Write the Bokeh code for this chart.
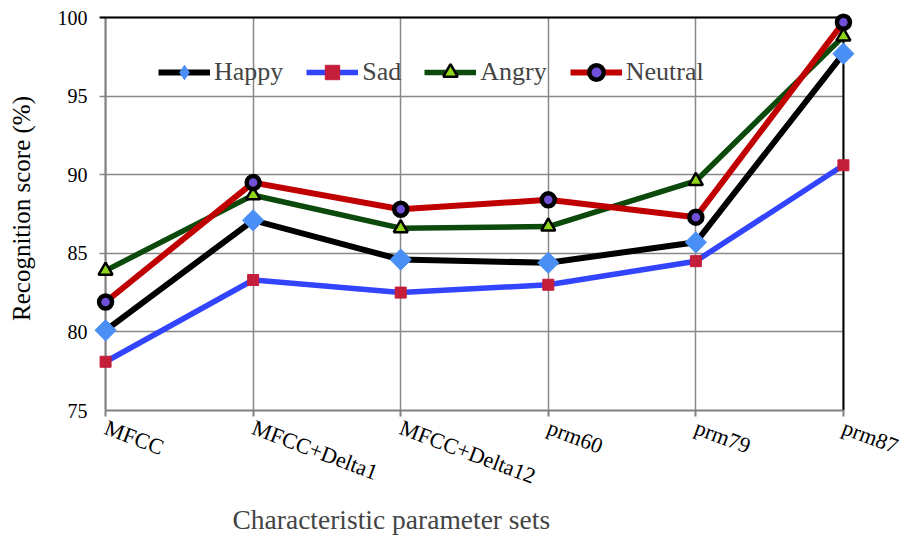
import math
from bokeh.plotting import figure
from bokeh.models import FixedTicker, Legend, LegendItem, Title
from bokeh.embed import file_html
from bokeh.resources import INLINE

categories = ["MFCC", "MFCC+Delta1", "MFCC+Delta12", "prm60", "prm79", "prm87"]
happy = [80.1, 87.1, 84.6, 84.4, 85.7, 97.7]
sad = [78.1, 83.3, 82.5, 83.0, 84.5, 90.6]
angry = [83.9, 88.7, 86.6, 86.7, 89.6, 98.8]
neutral = [81.9, 89.5, 87.8, 88.4, 87.3, 99.7]
y_ticks = [75, 80, 85, 90, 95, 100]

xs = list(range(len(categories)))
FONT = "Liberation Serif"
x0, x1 = 0, len(categories) - 1
y0, y1 = y_ticks[0], y_ticks[-1]
PADX = 0.075

p = figure(width=903, height=538, output_backend="svg", toolbar_location=None,
           x_range=(x0 - PADX, x1 + PADX), y_range=(y0, y1 + 0.7),
           min_border_left=94, min_border_right=49, min_border_top=6, min_border_bottom=128)
p.background_fill_color = "white"
p.border_fill_color = "white"
p.outline_line_color = None

p.xaxis.ticker = FixedTicker(ticks=xs)
p.xaxis.major_label_overrides = {i: c for i, c in enumerate(categories)}
p.xaxis.major_label_orientation = -0.36
p.xaxis.bounds = (x0, x1)
p.xaxis.axis_line_color = "#808080"
p.xaxis.axis_line_width = 2
p.xaxis.major_tick_line_color = "#808080"
p.xaxis.major_tick_line_width = 2
p.xaxis.major_tick_in = 0
p.xaxis.major_tick_out = 6
p.yaxis.ticker = FixedTicker(ticks=y_ticks)
p.yaxis.axis_line_color = None
p.yaxis.major_tick_line_color = None
for ax in (p.xaxis, p.yaxis):
    ax.minor_tick_line_color = None
    ax.major_label_text_font = FONT
    ax.major_label_text_color = "black"
    ax.axis_label_text_font = FONT
    ax.axis_label_text_font_style = "normal"
    ax.axis_label_text_color = "black"
p.xaxis.major_label_text_font_size = "22px"
p.yaxis.major_label_text_font_size = "20px"
p.xaxis.major_label_standoff = 10
p.yaxis.major_label_standoff = 1
p.yaxis.axis_label = "Recognition score (%)"
p.yaxis.axis_label_text_font_size = "25px"
p.yaxis.axis_label_standoff = 20

p.add_layout(Title(text="Characteristic parameter sets", text_font=FONT, text_font_size="27.5px",
                   text_font_style="normal", align="left", offset=138, standoff=-4), "below")

p.xgrid.ticker = FixedTicker(ticks=xs)
p.ygrid.ticker = FixedTicker(ticks=y_ticks)
p.xgrid.cross_bounds = (y0, y1)
p.ygrid.cross_bounds = (x0 - 0.04, x1)
p.grid.grid_line_color = "#888888"
p.grid.grid_line_width = 1.5

# left axis line (gray), top and right frame lines (black)
p.segment(x0=[x0], y0=[y0], x1=[x0], y1=[y1], line_color="#808080", line_width=2)
p.segment(x0=[x0 - 0.04, x1], y0=[y1, y0], x1=[x1, x1], y1=[y1, y1], line_color="black", line_width=2)

items = []
lh = p.line(xs, happy, line_color="black", line_width=6)
mh = p.scatter(xs, happy, marker="square", angle=math.pi / 4, size=15,
               fill_color="#4A8FF5", line_color="#4A8FF5")
# hidden diamond renderer used only for the legend key shape
mh_key = p.scatter(xs, happy, marker="diamond", size=22, fill_color="#4A8FF5",
                   line_color="#4A8FF5", visible=False)
items.append(LegendItem(label="Happy", renderers=[lh, mh_key]))
ls = p.line(xs, sad, line_color="#3344FF", line_width=5.5)
ms = p.scatter(xs, sad, marker="square", size=11, fill_color="#C41E3A", line_color="#C41E3A")
items.append(LegendItem(label="Sad", renderers=[ls, ms]))
la = p.line(xs, angry, line_color="#0B4A0B", line_width=5.5)
ma = p.scatter(xs, angry, marker="triangle", size=14, fill_color="#8FD61A", line_color="black", line_width=2.5)
items.append(LegendItem(label="Angry", renderers=[la, ma]))
ln = p.line(xs, neutral, line_color="#C00000", line_width=6)
mn = p.scatter(xs, neutral, marker="circle", size=13, fill_color="#7050D8", line_color="black", line_width=4.5)
items.append(LegendItem(label="Neutral", renderers=[ln, mn]))

legend = Legend(items=items, orientation="horizontal", location=(64, 320),
                border_line_color=None, background_fill_alpha=0,
                inactive_fill_alpha=0,
                label_text_font=FONT, label_text_font_size="26px",
                glyph_width=52, glyph_height=36, label_standoff=4, spacing=23,
                padding=4, margin=0)
p.add_layout(legend, "center")

open("out.html", "w").write(file_html(p, INLINE))
